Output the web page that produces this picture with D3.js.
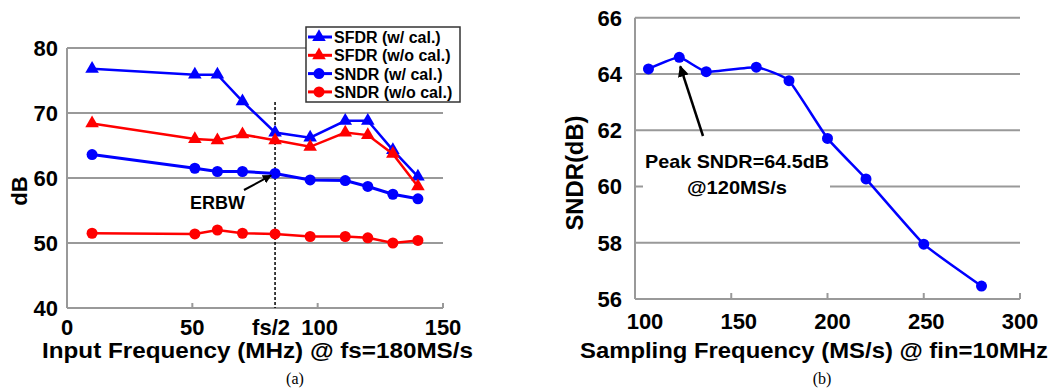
<!DOCTYPE html>
<html>
<head>
<meta charset="utf-8">
<script src="https://cdn.jsdelivr.net/npm/d3@7"></script>
<style>
  html, body { margin: 0; padding: 0; background: #fff; }
  svg text { font-family: 'Liberation Sans', Arial, sans-serif; font-weight: bold; }
</style>
</head>
<body>
<div id="chart"></div>
<script>
// ---- data: chart (a) ----
const inputFreq = [10, 51, 60, 70, 83, 97, 111, 120, 130, 140];
const sfdrCal = [76.8, 75.9, 75.9, 71.8, 67.0, 66.2, 68.8, 68.8, 64.3, 60.2];
const sfdrNoCal = [68.4, 66.0, 65.8, 66.7, 65.8, 64.8, 67.0, 66.6, 63.7, 58.7];
const sndrCal = [63.6, 61.5, 61.0, 61.0, 60.7, 59.7, 59.6, 58.7, 57.5, 56.8];
const sndrNoCal = [51.5, 51.4, 52.0, 51.5, 51.4, 51.0, 51.0, 50.8, 50.0, 50.4];
const seriesNames = ['SFDR (w/ cal.)', 'SFDR (w/o cal.)', 'SNDR (w/ cal.)', 'SNDR (w/o cal.)'];
const xTicksA = [0, 50, 100, 150];
const yTicksA = [40, 50, 60, 70, 80];
const halfFs = 83;

// ---- data: chart (b) ----
const sampFreq = [107, 123, 137, 163, 180, 200, 220, 250, 280];
const sndrB = [64.18, 64.59, 64.08, 64.24, 63.76, 61.71, 60.27, 57.95, 56.46];
const xTicksB = [100, 150, 200, 250, 300];
const yTicksB = [56, 58, 60, 62, 64, 66];

const BLUE = '#0000ff';
const RED = '#ff0000';
const GRID = '#999999';

const svg = d3.select('#chart').append('svg').attr('width', 1060).attr('height', 390);

svg.append('defs').append('marker')
  .attr('id', 'arrow')
  .attr('viewBox', '0 0 10 10')
  .attr('refX', 9).attr('refY', 5)
  .attr('markerWidth', 4.5).attr('markerHeight', 4.5)
  .attr('orient', 'auto')
  .append('path').attr('d', 'M0,0L10,5L0,10z').attr('fill', '#000');

// =============== (a) ===============
const xA = d3.scaleLinear().domain([0, 150]).range([67, 443]);
const yA = d3.scaleLinear().domain([40, 80]).range([308, 48]);
const gA = svg.append('g');

// gridlines
gA.selectAll('.grid').data(yTicksA).join('line')
  .attr('x1', xA(0)).attr('x2', xA(150))
  .attr('y1', (d) => yA(d)).attr('y2', (d) => yA(d))
  .attr('stroke', GRID).attr('stroke-width', 2);
gA.append('line').attr('x1', xA(0)).attr('x2', xA(0)).attr('y1', yA(80)).attr('y2', yA(40))
  .attr('stroke', GRID).attr('stroke-width', 2);
gA.selectAll('.xt').data(xTicksA).join('line')
  .attr('x1', (d) => xA(d)).attr('x2', (d) => xA(d))
  .attr('y1', yA(40)).attr('y2', yA(40) - 5)
  .attr('stroke', GRID).attr('stroke-width', 2);

// tick labels
gA.selectAll('.yl').data(yTicksA).join('text')
  .attr('x', 58).attr('y', (d) => yA(d) + 8)
  .attr('text-anchor', 'end').attr('font-size', 22).text((d) => d);
gA.selectAll('.xl').data(xTicksA).join('text')
  .attr('x', (d) => xA(d) + (d === 100 ? 2 : 0)).attr('y', 335)
  .attr('text-anchor', 'middle').attr('font-size', 22).text((d) => d);
gA.append('text').attr('x', xA(halfFs) - 4).attr('y', 335)
  .attr('text-anchor', 'middle').attr('font-size', 22).text('fs/2');

gA.append('text').attr('x', 257.5).attr('y', 358).attr('text-anchor', 'middle')
  .attr('font-size', 22).attr('textLength', 431).attr('lengthAdjust', 'spacingAndGlyphs')
  .text('Input Frequency (MHz) @ fs=180MS/s');
gA.append('text').attr('transform', 'translate(27,191) rotate(-90)').attr('text-anchor', 'middle')
  .attr('font-size', 22).text('dB');
gA.append('text').attr('x', 295).attr('y', 384).attr('text-anchor', 'middle')
  .style('font-family', "'Liberation Serif', 'Times New Roman', serif").style('font-weight', 'normal')
  .attr('font-size', 16).text('(a)');

// fs/2 dashed line
gA.append('line').attr('x1', xA(halfFs)).attr('x2', xA(halfFs)).attr('y1', 102).attr('y2', yA(40))
  .attr('stroke', '#000').attr('stroke-width', 1.5).attr('stroke-dasharray', '3,2');

const seriesA = [
  { vals: sfdrCal, color: BLUE, shape: 'tri', w: 2.5 },
  { vals: sfdrNoCal, color: RED, shape: 'tri', w: 2.5 },
  { vals: sndrCal, color: BLUE, shape: 'circ', w: 3 },
  { vals: sndrNoCal, color: RED, shape: 'circ', w: 2.5 },
];
const lineA = d3.line().x((d, i) => xA(inputFreq[i])).y((d) => yA(d));
const tri = d3.symbol(d3.symbolTriangle, 80);

seriesA.forEach((s) => {
  gA.append('path').attr('d', lineA(s.vals)).attr('fill', 'none')
    .attr('stroke', s.color).attr('stroke-width', s.w);
  if (s.shape === 'tri') {
    gA.selectAll(null).data(s.vals).join('path')
      .attr('d', tri)
      .attr('transform', (d, i) => `translate(${xA(inputFreq[i])},${yA(d)})`)
      .attr('fill', s.color);
  } else {
    gA.selectAll(null).data(s.vals).join('circle')
      .attr('cx', (d, i) => xA(inputFreq[i])).attr('cy', (d) => yA(d))
      .attr('r', 5.5).attr('fill', s.color);
  }
});

// ERBW annotation
gA.append('text').attr('x', 217.5).attr('y', 209).attr('text-anchor', 'middle')
  .attr('font-size', 18).attr('textLength', 55).attr('lengthAdjust', 'spacingAndGlyphs').text('ERBW');
gA.append('line').attr('x1', 244).attr('y1', 190).attr('x2', xA(halfFs) - 4).attr('y2', yA(60.7) + 2)
  .attr('stroke', '#000').attr('stroke-width', 2).attr('marker-end', 'url(#arrow)');

// legend
const leg = gA.append('g').attr('transform', 'translate(306,27)');
leg.append('rect').attr('width', 154).attr('height', 75)
  .attr('fill', '#fff').attr('stroke', '#333').attr('stroke-width', 1.5);
seriesNames.forEach((name, i) => {
  const s = seriesA[i];
  const y = 10 + i * 18.3;
  leg.append('line').attr('x1', 2).attr('x2', 26).attr('y1', y).attr('y2', y)
    .attr('stroke', s.color).attr('stroke-width', 3);
  if (s.shape === 'tri') {
    leg.append('path').attr('d', tri).attr('transform', `translate(13,${y})`).attr('fill', s.color);
  } else {
    leg.append('circle').attr('cx', 13).attr('cy', y).attr('r', 5.5).attr('fill', s.color);
  }
  leg.append('text').attr('x', 28).attr('y', y + 6).attr('font-size', 16).text(name);
});

// =============== (b) ===============
const xB = d3.scaleLinear().domain([100, 300]).range([635, 1020]);
const yB = d3.scaleLinear().domain([56, 66]).range([299, 17.7]);
const gB = svg.append('g');

gB.selectAll('.grid').data(yTicksB).join('line')
  .attr('x1', xB(100)).attr('x2', xB(300))
  .attr('y1', (d) => yB(d)).attr('y2', (d) => yB(d))
  .attr('stroke', GRID).attr('stroke-width', 2);
gB.append('line').attr('x1', xB(100)).attr('x2', xB(100)).attr('y1', yB(66)).attr('y2', yB(56))
  .attr('stroke', GRID).attr('stroke-width', 2);
gB.selectAll('.xt').data(xTicksB).join('line')
  .attr('x1', (d) => xB(d)).attr('x2', (d) => xB(d))
  .attr('y1', yB(56)).attr('y2', yB(56) - 6)
  .attr('stroke', GRID).attr('stroke-width', 2);

gB.selectAll('.yl').data(yTicksB).join('text')
  .attr('x', 622).attr('y', (d) => yB(d) + 8)
  .attr('text-anchor', 'end').attr('font-size', 22).text((d) => d);
gB.selectAll('.xl').data(xTicksB).join('text')
  .attr('x', (d) => xB(d) + (1 - (d - 100) / 200) * 10).attr('y', 329)
  .attr('text-anchor', 'middle').attr('font-size', 22).text((d) => d);

gB.append('text').attr('x', 814).attr('y', 358).attr('text-anchor', 'middle')
  .attr('font-size', 22).attr('textLength', 468).attr('lengthAdjust', 'spacingAndGlyphs')
  .text('Sampling Frequency (MS/s) @ fin=10MHz');
gB.append('text').attr('transform', 'translate(583,173) rotate(-90)').attr('text-anchor', 'middle')
  .attr('font-size', 23).attr('textLength', 115).attr('lengthAdjust', 'spacingAndGlyphs').text('SNDR(dB)');
gB.append('text').attr('x', 822).attr('y', 384).attr('text-anchor', 'middle')
  .style('font-family', "'Liberation Serif', 'Times New Roman', serif").style('font-weight', 'normal')
  .attr('font-size', 16).text('(b)');

// annotation with white backing
gB.append('rect').attr('x', 643).attr('y', 150).attr('width', 187).attr('height', 50).attr('fill', '#fff');
gB.append('text').attr('x', 737).attr('y', 168).attr('text-anchor', 'middle')
  .attr('font-size', 19).attr('textLength', 184).attr('lengthAdjust', 'spacingAndGlyphs').text('Peak SNDR=64.5dB');
gB.append('text').attr('x', 737).attr('y', 194).attr('text-anchor', 'middle')
  .attr('font-size', 19).attr('textLength', 100).attr('lengthAdjust', 'spacingAndGlyphs').text('@120MS/s');
gB.append('line').attr('x1', 703).attr('y1', 136).attr('x2', xB(sampFreq[1]) + 1).attr('y2', yB(sndrB[1]) + 9)
  .attr('stroke', '#000').attr('stroke-width', 2.5).attr('marker-end', 'url(#arrow)');

const lineB = d3.line().x((d, i) => xB(sampFreq[i])).y((d) => yB(d)).curve(d3.curveCardinal.tension(0.6));
gB.append('path').attr('d', lineB(sndrB)).attr('fill', 'none')
  .attr('stroke', BLUE).attr('stroke-width', 2.5);
gB.selectAll(null).data(sndrB).join('circle')
  .attr('cx', (d, i) => xB(sampFreq[i])).attr('cy', (d) => yB(d))
  .attr('r', 5.5).attr('fill', BLUE);
</script>
</body>
</html>
